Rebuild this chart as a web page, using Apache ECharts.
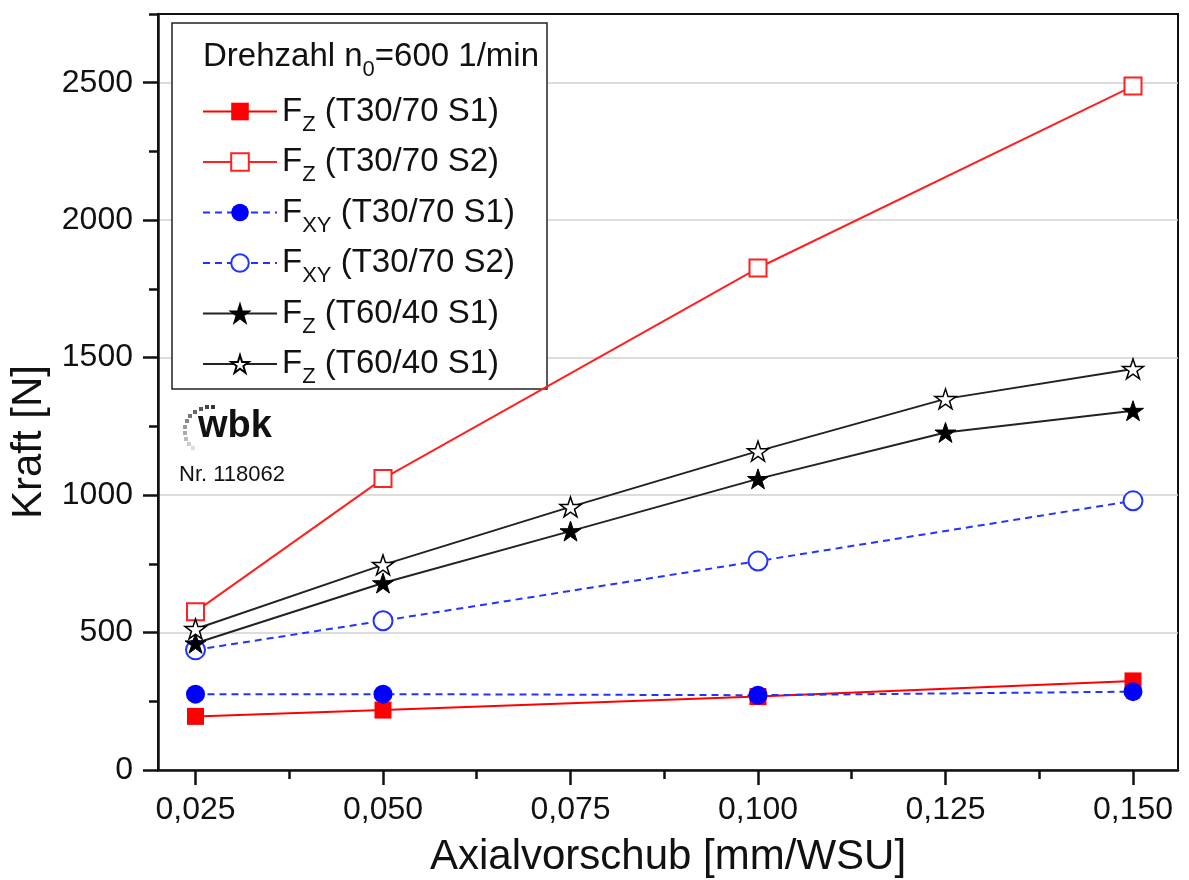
<!DOCTYPE html>
<html>
<head>
<meta charset="utf-8">
<script src="https://cdn.jsdelivr.net/npm/echarts@6/dist/echarts.min.js"></script>
<style>
html,body{margin:0;padding:0;background:#fff;}
#chart{width:1189px;height:880px;}
</style>
</head>
<body>
<div id="chart"></div>
<script>
// ---- data ----
const xShort = [0.025, 0.050, 0.100, 0.150];
const xLong = [0.025, 0.050, 0.075, 0.100, 0.125, 0.150];
const fzT3070S1 = [195, 218, 267, 324];
const fzT3070S2 = [576, 1060, 1826, 2488];
const fxyT3070S1 = [276, 276, 272, 285];
const fxyT3070S2 = [437, 543, 760, 979];
const fzT6040S1a = [461, 680, 869, 1059, 1228, 1307];
const fzT6040S1b = [513, 746, 957, 1160, 1350, 1459];
const xMajorTicks = [0.025, 0.050, 0.075, 0.100, 0.125, 0.150];
const xMinorTicks = [0.0375, 0.0625, 0.0875, 0.1125, 0.1375];
const yMajorTicks = [0, 500, 1000, 1500, 2000, 2500];
const yMinorTicks = [250, 750, 1250, 1750, 2250, 2750];
const legendLabels = {
  s1: '{n|F}{s|Z}{n| (T30/70 S1)}',
  s2: '{n|F}{s|Z}{n| (T30/70 S2)}',
  s3: '{n|F}{s|XY}{n| (T30/70 S1)}',
  s4: '{n|F}{s|XY}{n| (T30/70 S2)}',
  s5: '{n|F}{s|Z}{n| (T60/40 S1)}',
  s6: '{n|F}{s|Z}{n| (T60/40 S1)}'
};

const pair = (xs, ys) => xs.map((x, i) => [x, ys[i]]);
const STAR = 'path://M0,-1L0.2245,-0.309L0.951,-0.309L0.363,0.118L0.588,0.809L0,0.382L-0.588,0.809L-0.363,0.118L-0.951,-0.309L-0.2245,-0.309Z';
const FONT = '"Liberation Sans", Arial, sans-serif';
const fmtX = v => v.toFixed(3).replace('.', ',');
const fmtY = v => String(Math.round(v));

const chart = echarts.init(document.getElementById('chart'), null, {renderer: 'canvas'});

const xBase = {
  type: 'value', min: 0.02, max: 0.156, position: 'bottom',
  splitLine: {show: false}
};
const yBase = {
  type: 'value', min: 0, max: 2750, position: 'left'
};

const option = {
  animation: false,
  backgroundColor: '#fff',
  textStyle: {fontFamily: FONT},
  grid: {left: 158, right: 11, top: 14, bottom: 110, show: true, borderColor: '#111', borderWidth: 2,
    backgroundColor: 'transparent', containLabel: false, outerBoundsMode: 'none'},
  xAxis: [
    Object.assign({}, xBase, {
      axisLine: {show: true, lineStyle: {color: '#111', width: 2.5}},
      axisTick: {show: true, length: 15, lineStyle: {color: '#111', width: 2.5}, customValues: xMajorTicks},
      axisLabel: {show: true, customValues: xMajorTicks, formatter: fmtX, fontSize: 32, color: '#111', margin: 24, fontFamily: FONT},
      name: 'Axialvorschub [mm/WSU]', nameLocation: 'middle', nameGap: 66,
      nameTextStyle: {fontSize: 42, color: '#111', fontFamily: FONT}
    }),
    Object.assign({}, xBase, {
      axisLine: {show: false},
      axisTick: {show: true, length: 9, lineStyle: {color: '#111', width: 2.5}, customValues: xMinorTicks},
      axisLabel: {show: false}
    })
  ],
  yAxis: [
    Object.assign({}, yBase, {
      interval: 500,
      axisLine: {show: true, lineStyle: {color: '#111', width: 2.5}},
      axisTick: {show: true, length: 15, lineStyle: {color: '#111', width: 2.5}, customValues: yMajorTicks},
      axisLabel: {show: true, customValues: yMajorTicks, formatter: fmtY, fontSize: 32, color: '#111', margin: 25, fontFamily: FONT},
      splitLine: {show: true, lineStyle: {color: '#d0d0d0', width: 1.5}},
      name: 'Kraft [N]', nameLocation: 'middle', nameGap: 104,
      nameTextStyle: {fontSize: 42, color: '#111', fontFamily: FONT, padding: [0, 100, 0, 0]}
    }),
    Object.assign({}, yBase, {
      axisLine: {show: false},
      axisTick: {show: true, length: 9, lineStyle: {color: '#111', width: 2.5}, customValues: yMinorTicks},
      axisLabel: {show: false},
      splitLine: {show: false}
    })
  ],
  legend: {
    left: 202, top: 95, orient: 'vertical', padding: 0,
    itemWidth: 74, itemHeight: 22, itemGap: 10,
    data: ['s1', 's2', 's3', 's4', 's5', 's6'],
    formatter: n => legendLabels[n],
    textStyle: {
      fontFamily: FONT, color: '#111',
      rich: {
        n: {fontSize: 33, lineHeight: 36, fontFamily: FONT, color: '#111', padding: [0, 0, 0, 0]},
        s: {fontSize: 22, lineHeight: 22, verticalAlign: 'bottom', fontFamily: FONT, color: '#111', padding: [0, 0, -6, 0]}
      }
    }
  },
  graphic: [
    {type: 'rect', z: 1, shape: {x: 172, y: 23, width: 375, height: 366}, style: {fill: '#fff', stroke: '#222', lineWidth: 1.5}},
    {type: 'text', z: 5, left: 203, top: 40, style: {
      text: '{n|Drehzahl n}{s|0}{n|=600 1/min}', fontFamily: FONT,
      rich: {
        n: {fontSize: 33, lineHeight: 36, fontFamily: FONT, fill: '#111'},
        s: {fontSize: 22, lineHeight: 22, verticalAlign: 'bottom', fontFamily: FONT, fill: '#111', padding: [0, 0, -6, 0]}
      }
    }},
    // wbk logo dots
    {type: 'group', z: 5, children: [
      {type: 'rect', shape: {x: 211, y: 405, width: 4, height: 4}, style: {fill: '#333'}},
      {type: 'rect', shape: {x: 205, y: 405, width: 4, height: 4}, style: {fill: '#444'}},
      {type: 'rect', shape: {x: 199, y: 407, width: 4, height: 4}, style: {fill: '#555'}},
      {type: 'rect', shape: {x: 193, y: 410, width: 4, height: 4}, style: {fill: '#666'}},
      {type: 'rect', shape: {x: 188, y: 414, width: 4, height: 4}, style: {fill: '#777'}},
      {type: 'rect', shape: {x: 185, y: 419, width: 4, height: 4}, style: {fill: '#888'}},
      {type: 'rect', shape: {x: 183, y: 425, width: 4, height: 4}, style: {fill: '#999'}},
      {type: 'rect', shape: {x: 183, y: 431, width: 4, height: 4}, style: {fill: '#aaa'}},
      {type: 'rect', shape: {x: 184, y: 437, width: 4, height: 4}, style: {fill: '#bbb'}},
      {type: 'rect', shape: {x: 187, y: 442, width: 4, height: 4}, style: {fill: '#ccc'}},
      {type: 'rect', shape: {x: 191, y: 446, width: 4, height: 4}, style: {fill: '#ddd'}}
    ]},
    {type: 'text', z: 5, left: 198, top: 408, style: {text: 'wbk', fontFamily: FONT, fontWeight: 'bold', fontSize: 38, fill: '#111'}},
    {type: 'text', z: 5, left: 179, top: 464, style: {text: 'Nr. 118062', fontFamily: FONT, fontSize: 22, fill: '#111'}}
  ],
  series: [
    {name: 's1', type: 'line', xAxisIndex: 0, yAxisIndex: 0, data: pair(xShort, fzT3070S1),
      symbol: 'rect', symbolSize: 17, lineStyle: {color: '#ff0000', width: 2},
      itemStyle: {color: '#ff0000'}},
    {name: 's2', type: 'line', xAxisIndex: 0, yAxisIndex: 0, data: pair(xShort, fzT3070S2),
      symbol: 'emptyRect', symbolSize: 17, lineStyle: {color: '#ff2020', width: 2},
      itemStyle: {color: '#ff2020', borderWidth: 2}},
    {name: 's3', type: 'line', xAxisIndex: 0, yAxisIndex: 0, data: pair(xShort, fxyT3070S1),
      symbol: 'circle', symbolSize: 19, lineStyle: {color: '#2233ff', width: 2, type: [7, 5]},
      itemStyle: {color: '#0000ff'}},
    {name: 's4', type: 'line', xAxisIndex: 0, yAxisIndex: 0, data: pair(xShort, fxyT3070S2),
      symbol: 'emptyCircle', symbolSize: 19, lineStyle: {color: '#2233ff', width: 2, type: [7, 5]},
      itemStyle: {color: '#2233ff', borderWidth: 2}},
    {name: 's5', type: 'line', xAxisIndex: 0, yAxisIndex: 0, data: pair(xLong, fzT6040S1a),
      symbol: STAR, symbolSize: 21, symbolKeepAspect: true, lineStyle: {color: '#222', width: 2},
      itemStyle: {color: '#000', borderColor: '#000', borderWidth: 1}},
    {name: 's6', type: 'line', xAxisIndex: 0, yAxisIndex: 0, data: pair(xLong, fzT6040S1b),
      symbol: STAR, symbolSize: 21, symbolKeepAspect: true, lineStyle: {color: '#222', width: 2},
      itemStyle: {color: '#fff', borderColor: '#000', borderWidth: 1.5}}
  ]
};
chart.setOption(option);
</script>
</body>
</html>
